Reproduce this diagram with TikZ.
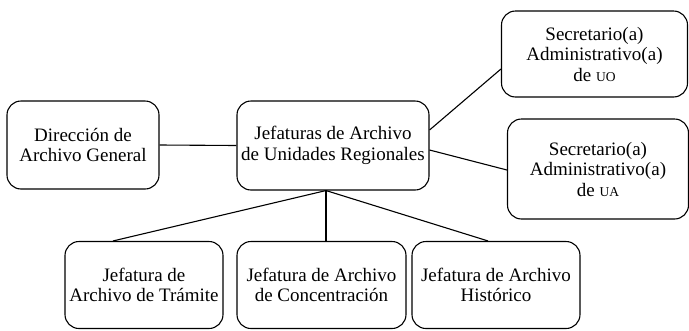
\documentclass[tikz,border=0pt]{standalone}
\usepackage{fontspec}
\setmainfont{Liberation Serif}
\usetikzlibrary{calc}
\newcommand{\smc}[1]{{\fontsize{13.5}{15}\selectfont #1}}
\begin{document}
\begin{tikzpicture}[x=1pt,y=-1pt,
  box/.style={draw,line width=1.1pt,rounded corners=14pt,align=center,inner sep=0pt,
    font=\fontsize{19}{20.5}\selectfont},
  conn/.style={line width=1.1pt}]
\useasboundingbox (0,0) rectangle (689,330);
\node[box,minimum width=152pt,minimum height=88pt] (dir) at (83,145) {Dirección de\\Archivo General};
\node[box,minimum width=192pt,minimum height=89pt] (jef) at (333,145.5) {Jefaturas de Archivo\\de Unidades Regionales};
\node[box,minimum width=186pt,minimum height=86pt] (uo) at (594.5,54) {Secretario(a)\\Administrativo(a)\\de \smc{UO}};
\node[box,minimum width=181pt,minimum height=100pt] (ua) at (598,169) {Secretario(a)\\Administrativo(a)\\de \smc{UA}};
\node[box,minimum width=158pt,minimum height=87pt] (b1) at (144,285) {Jefatura de\\Archivo de Trámite};
\node[box,minimum width=169pt,minimum height=87pt] (b2) at (321.5,285) {Jefatura de Archivo\\de Concentración};
\node[box,minimum width=168pt,minimum height=87pt] (b3) at (496,285) {Jefatura de Archivo\\Histórico};
\draw[conn] (dir.east) -- (jef.west);
\draw[conn] ([yshift=15.5pt]jef.east) -- ([yshift=-15pt]uo.west);
\draw[conn] ([yshift=-4.5pt]jef.east) -- ([yshift=-1pt]ua.west);
\draw[conn] ([xshift=-7pt]jef.south) -- ([xshift=-31pt]b1.north);
\draw[conn] ([xshift=-7pt]jef.south) -- ([xshift=4.5pt]b2.north);
\draw[conn] ([xshift=-7pt]jef.south) -- ([xshift=-8pt]b3.north);
\end{tikzpicture}
\end{document}
